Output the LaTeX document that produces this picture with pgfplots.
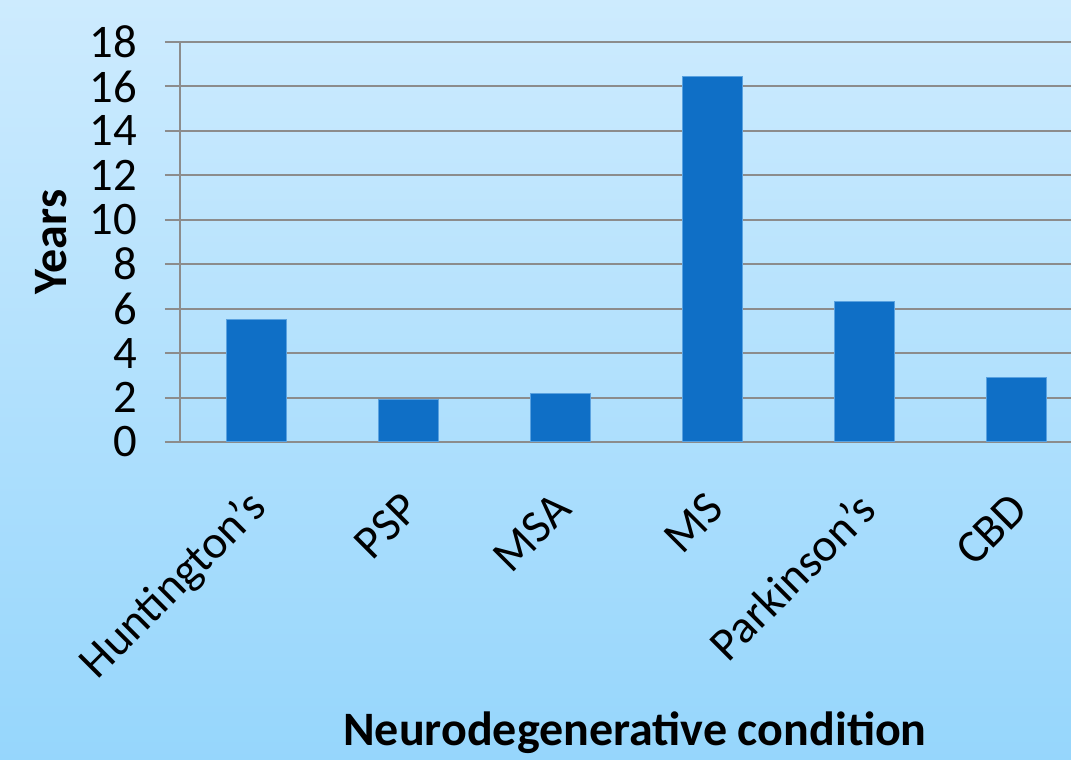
\documentclass[border=0pt]{standalone}
\usepackage{pgfplots}
\pgfplotsset{compat=1.18}
\usepackage{fontspec}
\setmainfont{Carlito}

\definecolor{bgtop}{RGB}{205,235,254}
\definecolor{bgbottom}{RGB}{150,214,252}
\definecolor{barblue}{RGB}{15,111,198}
\definecolor{baredge}{RGB}{90,162,224}
\definecolor{gridgray}{RGB}{140,140,140}

\begin{document}
\begin{tikzpicture}
  % page background, 1071 x 760 units of 0.75pt
  \shade[top color=bgtop, bottom color=bgbottom] (0pt,0pt) rectangle (803.25pt,570pt);
  \begin{axis}[
    at={(135pt,238.5pt)}, anchor=south west,
    scale only axis,
    width=668.25pt, height=300pt,
    xmin=-0.5, xmax=5.3618,
    ymin=0, ymax=18,
    ytick={0,2,...,18},
    xtick={0,1,2,3,4,5},
    xticklabels={Huntington's, PSP, MSA, MS, Parkinson's, CBD},
    axis x line*=bottom,
    axis y line*=left,
    axis line style={draw=gridgray, line width=1.5pt, -},
    ymajorgrids,
    grid style={draw=gridgray, line width=1.5pt},
    tick align=outside,
    major tick length=11.25pt,
    ytick style={draw=gridgray, line width=1.5pt},
    xtick style={draw=none},
    /pgf/number format/assume math mode=true,
    tick label style={font=\fontsize{35}{42}\selectfont},
    yticklabel style={inner sep=0pt, xshift=-21pt},
    xticklabel style={inner sep=0pt, xshift=2.6pt, yshift=-33pt, rotate=45, anchor=east},
    xlabel={\textbf{Neurodegenerative condition}},
    ylabel={\textbf{Years}},
    label style={font=\fontsize{36}{43}\selectfont},
    xlabel style={at={(rel axis cs:0.5107,-0.7275)}, anchor=center},
    ylabel style={at={(rel axis cs:-0.1448,0.5)}, anchor=center, rotate=0},
    clip=false,
  ]
    \addplot[ybar, bar width=45pt, fill=barblue, draw=baredge, line width=0.75pt]
      coordinates {(0,5.5) (1,1.9) (2,2.2) (3,16.45) (4,6.3) (5,2.9)};
  \end{axis}
  \pgfresetboundingbox
  \useasboundingbox (0pt,0pt) rectangle (803.25pt,570pt);
\end{tikzpicture}
\end{document}
